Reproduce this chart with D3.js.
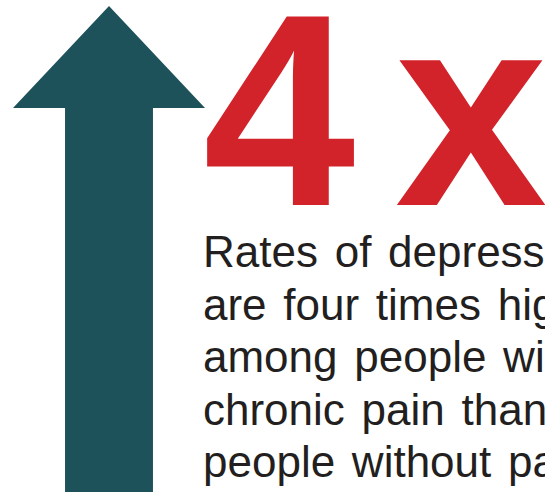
<!DOCTYPE html>
<html>
<head>
<meta charset="utf-8">
<script src="https://cdn.jsdelivr.net/npm/d3@7"></script>
<style>
  html, body { margin: 0; padding: 0; background: #fff; overflow: hidden; }
</style>
</head>
<body>
<svg id="chart"></svg>
<script>
// data
const ratio = [4];
const ratioLabel = ["4", "x"];
const bodyLines = [
  "Rates of depression",
  "are four times higher",
  "among people with",
  "chronic pain than",
  "people without pain."
];

const width = 545;
const height = 494;

const svg = d3.select("#chart")
  .attr("width", width)
  .attr("height", height);

// arrow: length encodes the ratio (0 at the bottom, 4 at the tip)
const y = d3.scaleLinear().domain([0, 4]).range([492, 6]);
const x = d3.scaleLinear().domain([-1, 1]).range([13, 205]);
const shaftHalf = 0.458;
const headLen = 102;

svg.append("g")
  .selectAll("path")
  .data(ratio)
  .enter()
  .append("path")
  .attr("d", function (d) {
    const tip = y(d), base = y(0), neck = tip + headLen;
    return d3.line()([
      [x(0), tip],
      [x(1), neck],
      [x(shaftHalf), neck],
      [x(shaftHalf), base],
      [x(-shaftHalf), base],
      [x(-shaftHalf), neck],
      [x(-1), neck]
    ]) + "Z";
  })
  .style("fill", "#1e525b");

// big "4 x"
const labelX = [203, 395];
svg.append("g")
  .selectAll("text")
  .data(ratioLabel)
  .enter()
  .append("text")
  .attr("x", (d, i) => labelX[i])
  .attr("y", 205)
  .style("font-family", "'Liberation Sans', Arial, sans-serif")
  .style("font-weight", "bold")
  .style("font-size", "274px")
  .style("fill", "#d2232b")
  .text(d => d);

// body text
svg.append("g")
  .selectAll("text")
  .data(bodyLines)
  .enter()
  .append("text")
  .attr("x", 203)
  .attr("y", (d, i) => 267 + i * 52.5)
  .style("font-family", "'Liberation Sans', Arial, sans-serif")
  .style("font-size", "44px")
  .style("word-spacing", "4.5px")
  .style("fill", "#231f20")
  .text(d => d);
</script>
</body>
</html>
